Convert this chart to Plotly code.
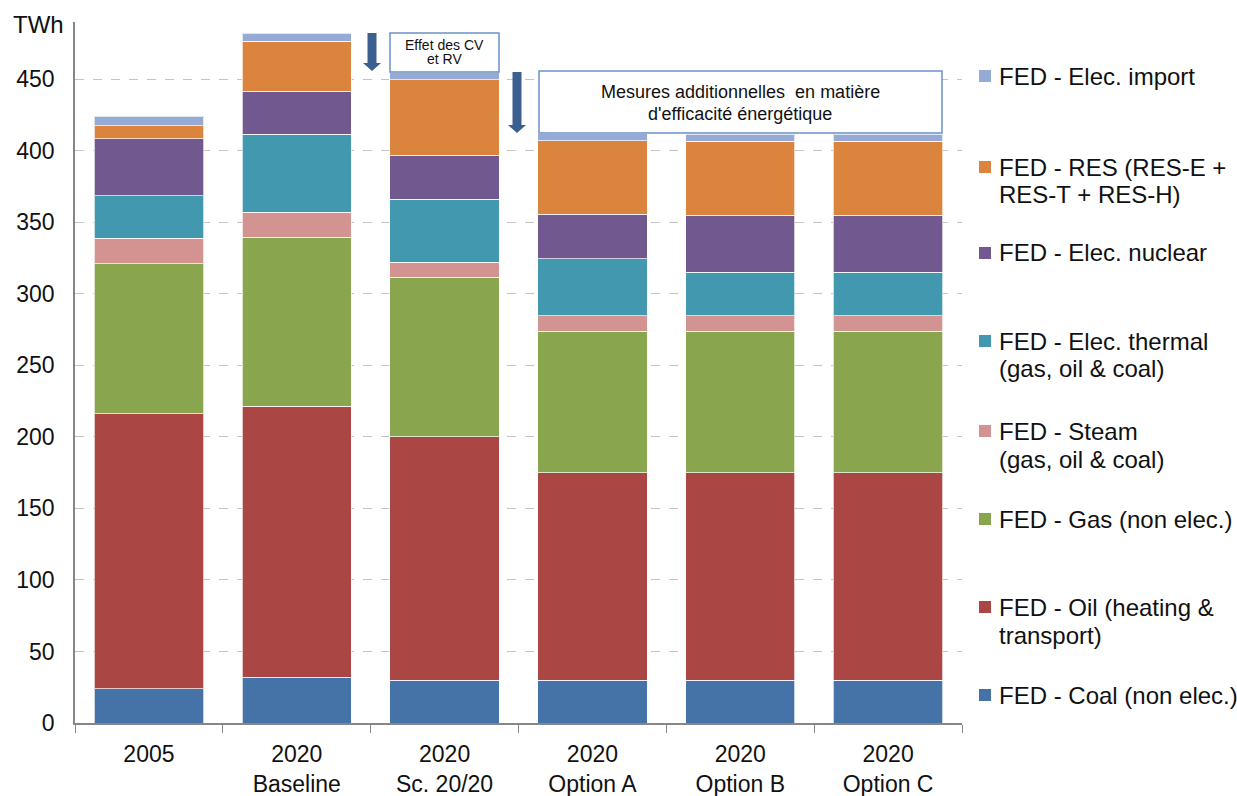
import plotly.graph_objects as go

categories = ["2005", "2020<br>Baseline", "2020<br>Sc. 20/20", "2020<br>Option A", "2020<br>Option B", "2020<br>Option C"]

coal = [24, 32, 30, 30, 30, 30]
oil = [192, 189.5, 170, 145, 145, 145]
gas = [105, 118, 111.5, 99, 99, 99]
steam = [18, 17.5, 10.5, 10.5, 10.5, 10.5]
thermal = [29.5, 54.5, 44, 40, 30.5, 30.5]
nuclear = [40, 30, 31, 31, 40, 40]
res = [9, 35, 52.5, 51.5, 51.5, 51.5]
imp = [6.5, 5.5, 5.5, 5, 5, 5]

series = [
    ("FED - Coal (non elec.)", coal, "#4572A7"),
    ("FED - Oil (heating & transport)", oil, "#AA4643"),
    ("FED - Gas (non elec.)", gas, "#89A54E"),
    ("FED - Steam (gas, oil & coal)", steam, "#D39391"),
    ("FED - Elec. thermal (gas, oil & coal)", thermal, "#4198AF"),
    ("FED - Elec. nuclear", nuclear, "#71588F"),
    ("FED - RES (RES-E + RES-T + RES-H)", res, "#DB843D"),
    ("FED - Elec. import", imp, "#95ABD5"),
]

# legend layout: (lines, y centre of first line in px, colour)
legend_items = [
    (["FED - Elec. import"], 76, "#95ABD5"),
    (["FED - RES (RES-E +", "RES-T + RES-H)"], 167, "#DB843D"),
    (["FED - Elec. nuclear"], 253, "#71588F"),
    (["FED - Elec. thermal", "(gas, oil & coal)"], 341, "#4198AF"),
    (["FED - Steam", "(gas, oil & coal)"], 431, "#D39391"),
    (["FED - Gas (non elec.)"], 519, "#89A54E"),
    (["FED - Oil (heating &", "transport)"], 607, "#AA4643"),
    (["FED - Coal (non elec.)"], 695, "#4572A7"),
]

W, H = 1237, 796
L, R, T, B = 75, 275, 22, 73
PW, PH = W - L - R, H - T - B

def px(x):
    return (x - L) / PW

def py(y):
    return (H - B - y) / PH

FONT = "Liberation Sans, Arial, sans-serif"

fig = go.Figure()
for name, vals, col in series:
    fig.add_trace(go.Bar(
        x=categories, y=vals, name=name, marker_color=col,
        marker_line=dict(color="rgba(255,255,255,0.7)", width=1),
        showlegend=False,
    ))

shapes = []
annotations = []

def txt(x, y, s, size, anchor="left"):
    annotations.append(dict(xref="paper", yref="paper", x=px(x), y=py(y),
                            xanchor=anchor, yanchor="middle", text=s, showarrow=False,
                            font=dict(family=FONT, size=size, color="#111111")))

# manual legend
for lines, y0, col in legend_items:
    shapes.append(dict(type="rect", xref="paper", yref="paper",
                       x0=px(979), x1=px(991), y0=py(y0 + 6), y1=py(y0 - 6),
                       fillcolor=col, line=dict(width=0)))
    for i, ln in enumerate(lines):
        txt(997, y0 + i * 28, ln, 24)

# TWh label
txt(11, 25, "TWh", 24)

# boxes
shapes.append(dict(type="rect", xref="paper", yref="paper", x0=px(390), x1=px(499),
                   y0=py(72), y1=py(33), fillcolor="white",
                   line=dict(color="#6A92C8", width=1.5)))
txt(444.5, 45, "Effet des CV", 14, "center")
txt(444.5, 59, "et RV", 14, "center")
shapes.append(dict(type="rect", xref="paper", yref="paper", x0=px(539), x1=px(942),
                   y0=py(133), y1=py(71), fillcolor="white",
                   line=dict(color="#6A92C8", width=1.5)))
txt(740, 92, "Mesures additionnelles  en matière", 18, "center")
txt(740, 114, "d'efficacité énergétique", 18, "center")

# arrows
def arrow(cx, ytop, yhead, ytip, sw=4.5, hw=9):
    pts = [(cx - sw, ytop), (cx + sw, ytop), (cx + sw, yhead), (cx + hw, yhead),
           (cx, ytip), (cx - hw, yhead), (cx - sw, yhead)]
    d = "M " + " L ".join(f"{px(x):.5f},{py(y):.5f}" for x, y in pts) + " Z"
    return dict(type="path", xref="paper", yref="paper", path=d,
                fillcolor="#3B5F8E", line=dict(width=0))

shapes.append(arrow(372, 33, 63, 71))
shapes.append(arrow(517, 72, 125, 133))

fig.update_layout(
    width=W, height=H,
    margin=dict(l=L, r=R, t=T, b=B),
    barmode="stack", bargap=0.26,
    plot_bgcolor="white", paper_bgcolor="white",
    font=dict(family=FONT, size=22, color="#111111"),
    shapes=shapes, annotations=annotations,
    xaxis=dict(showline=True, linecolor="#868686", linewidth=1.5, automargin=False,
               ticks="outside", tickson="boundaries", ticklen=8, tickcolor="#868686",
               ticklabelstandoff=10,
               tickfont=dict(family=FONT, size=23, color="#111111"), showgrid=False),
    yaxis=dict(range=[0, 490], tickvals=list(range(0, 451, 50)), showline=True,
               linecolor="#868686", linewidth=1.5, ticks="", automargin=False,
               showgrid=True, gridcolor="#C4C4C4", griddash="dash", gridwidth=1.2,
               zeroline=False, ticklabelstandoff=14,
               tickfont=dict(family=FONT, size=23, color="#111111")),
)

fig.write_html("out.html")
